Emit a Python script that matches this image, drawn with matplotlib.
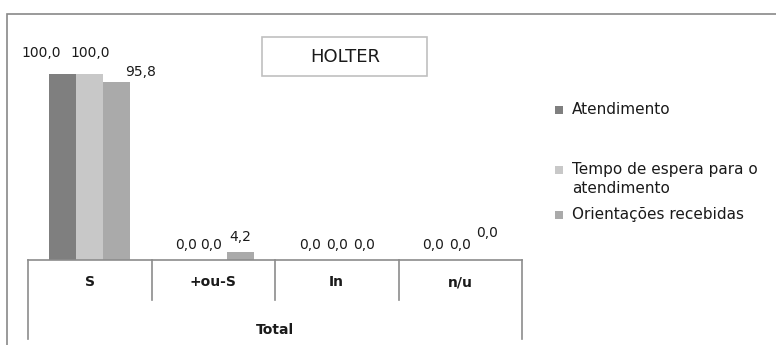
import numpy as np
import matplotlib
matplotlib.use("Agg")
import matplotlib.pyplot as plt
from matplotlib.patches import Rectangle

# data
categories = ["S", "+ou-S", "In", "n/u"]
group_label = "Total"
series_names = ["Atendimento", "Tempo de espera para o\natendimento", "Orientações recebidas"]
atendimento = [100.0, 0.0, 0.0, 0.0]
tempo_espera = [100.0, 0.0, 0.0, 0.0]
orientacoes = [95.8, 4.2, 0.0, 0.0]
title = "HOLTER"

series = [atendimento, tempo_espera, orientacoes]
colors = ["#7f7f7f", "#c8c8c8", "#aaaaaa"]
linecol = "#8c8c8c"

# label nudges in pixels (dx, dy above bar top), per series, per category
nudges = [
    [(-22, 21), (0, 15), (0, 15), (0, 15)],
    [(0, 21), (-2, 15), (0, 15), (0, 15)],
    [(24, 10), (0, 15), (0, 15), (0, 27)],
]

W, H = 776, 345
fig = plt.figure(figsize=(W / 100, H / 100), dpi=100)

# outer chart border (runs off right/bottom edges)
fig.patches.append(Rectangle((7 / W, -0.1), 1.2, (H - 14) / H + 0.1,
                             transform=fig.transFigure, fill=False,
                             edgecolor="#898989", linewidth=1.2))

ax = fig.add_axes([28 / W, (H - 260) / H, 494 / W, 223 / H])
ax.set_xlim(0, 4)
ax.set_ylim(0, 120)
for s in ["top", "right", "left"]:
    ax.spines[s].set_visible(False)
ax.spines["bottom"].set_color(linecol)
ax.spines["bottom"].set_linewidth(1.2)
ax.set_xticks([])
ax.set_yticks([])
ax.patch.set_alpha(0)

x = np.arange(len(categories)) + 0.5
bw = 27 / 123.5
for k, vals in enumerate(series):
    pos = x + (k - 1) * bw
    ax.bar(pos, vals, width=bw, color=colors[k], linewidth=0)
    for i, v in enumerate(vals):
        dx, dy = nudges[k][i]
        ax.annotate(f"{v:.1f}".replace(".", ","), (pos[i], v),
                    xytext=(dx, dy), textcoords="offset pixels",
                    ha="center", va="center", fontsize=10, color="#1a1a1a")

# category axis with grouped labels
tr = ax.get_xaxis_transform()
for i in range(len(categories) + 1):
    bottom = -0.354 if i in (0, len(categories)) else -0.179
    ax.plot([i, i], [0, bottom], transform=tr, color=linecol,
            linewidth=1.2, clip_on=False)
for i, c in enumerate(categories):
    ax.text(x[i], -0.099, c, transform=tr, ha="center", va="center",
            fontsize=10, fontweight="bold", color="#1a1a1a")
ax.text(2, -0.314, group_label, transform=tr, ha="center", va="center",
        fontsize=10, fontweight="bold", color="#1a1a1a")

# title box
fig.patches.append(Rectangle((262 / W, 1 - 76 / H), 165 / W, 39 / H,
                             transform=fig.transFigure, fill=False,
                             edgecolor="#c0c0c0", linewidth=1.2))
fig.text(345 / W, 1 - 57 / H, title, ha="center", va="center",
         fontsize=13, color="#1a1a1a")

# legend
leg_y = [110, 170, 215]
for k, name in enumerate(series_names):
    yc = leg_y[k]
    fig.patches.append(Rectangle((555 / W, 1 - (yc + 4) / H), 8 / W, 8 / H,
                                 transform=fig.transFigure,
                                 facecolor=colors[k], edgecolor="none"))
    fig.text(572 / W, 1 - (yc - 8) / H, name, ha="left", va="top",
             fontsize=11, color="#1a1a1a", linespacing=1.35)

fig.savefig("out.png", dpi=100)
